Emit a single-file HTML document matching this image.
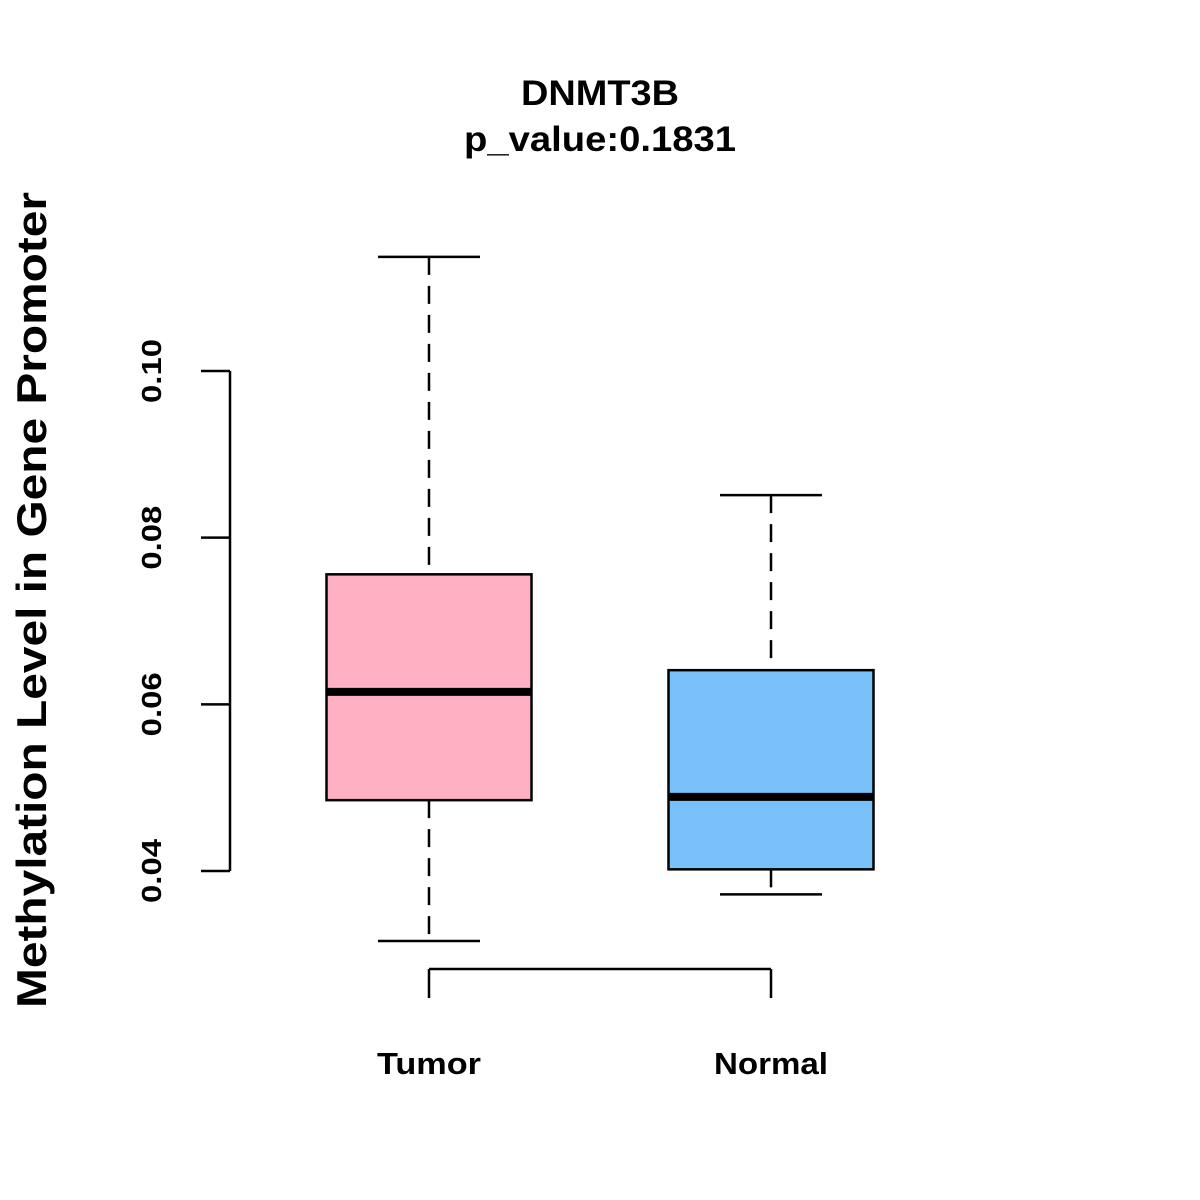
<!DOCTYPE html>
<html><head><meta charset="utf-8"><style>
html,body{margin:0;padding:0;background:#fff;}
svg{display:block;font-family:"Liberation Sans",Arial,sans-serif;font-weight:bold;}
</style></head><body>
<svg id="chart" width="1200" height="1200" viewBox="0 0 1200 1200">
<text x="600" y="105" font-size="35" text-anchor="middle" textLength="158" lengthAdjust="spacingAndGlyphs">DNMT3B</text>
<text x="600" y="151" font-size="35" text-anchor="middle" textLength="272" lengthAdjust="spacingAndGlyphs">p_value:0.1831</text>
<text transform="translate(46,600) rotate(-90)" font-size="42" text-anchor="middle" textLength="816" lengthAdjust="spacingAndGlyphs">Methylation Level in Gene Promoter</text>
<g id="yaxis"></g>
<g id="xaxis"></g>
<g id="boxes"></g>
</svg>
<script>
const categories = ["Tumor","Normal"];
const whiskerLow = [0.0316,0.0372];
const q1 = [0.0485,0.0402];
const median = [0.0615,0.0489];
const q3 = [0.0756,0.0641];
const whiskerHigh = [0.1137,0.0851];
const fills = ["#FFB1C3","#77C1F8"];
const yTicks = [0.04,0.06,0.08,0.10];
const yTickLabels = ["0.04","0.06","0.08","0.10"];

const NS="http://www.w3.org/2000/svg";
function y(v){return 871-(v-0.04)*(500/0.06);}
function x(i){return 429+i*342;}
function mk(tag,attrs,parent){const e=document.createElementNS(NS,tag);for(const k in attrs)e.setAttribute(k,attrs[k]);parent.appendChild(e);return e;}

const ya=document.getElementById('yaxis');
let l=mk('line',{x1:230,x2:230,y1:y(yTicks[yTicks.length-1]),y2:y(yTicks[0]),stroke:'#000','stroke-width':2.5},ya);


yTicks.forEach((t,i)=>{
  const tk=mk('line',{x1:201,x2:230,y1:y(t),y2:y(t),stroke:'#000','stroke-width':2.5},ya);
  
  
  const tx=mk('text',{transform:`translate(161,${y(t)}) rotate(-90)`,'font-size':28,'text-anchor':'middle',textLength:64,lengthAdjust:'spacingAndGlyphs'},ya);
  tx.textContent=yTickLabels[i];
  
  
});

const xLabelWidths=[104,114];
const xa=document.getElementById('xaxis');
l=mk('line',{x1:x(0),x2:x(categories.length-1),y1:969,y2:969,stroke:'#000','stroke-width':2.5},xa);


categories.forEach((c,i)=>{
  const tk=mk('line',{x1:x(i),x2:x(i),y1:969,y2:998,stroke:'#000','stroke-width':2.5},xa);
  
  
  const tx=mk('text',{x:x(i),y:1074,'font-size':31,'text-anchor':'middle',textLength:xLabelWidths[i],lengthAdjust:'spacingAndGlyphs'},xa);
  tx.textContent=c;
  
  
});

const bg=document.getElementById('boxes');
categories.forEach((c,i)=>{
  const cx=x(i), hw=102.5, cw=51;
  const g=mk('g',{},bg);
  
  
  mk('line',{x1:cx,x2:cx,y1:y(whiskerHigh[i]),y2:y(q3[i]),stroke:'#000','stroke-width':2.5,'stroke-dasharray':'18,11'},g);
  mk('line',{x1:cx,x2:cx,y1:y(q1[i]),y2:y(whiskerLow[i]),stroke:'#000','stroke-width':2.5,'stroke-dasharray':'18,11'},g);
  mk('line',{x1:cx-cw,x2:cx+cw,y1:y(whiskerHigh[i]),y2:y(whiskerHigh[i]),stroke:'#000','stroke-width':2.5},g);
  mk('line',{x1:cx-cw,x2:cx+cw,y1:y(whiskerLow[i]),y2:y(whiskerLow[i]),stroke:'#000','stroke-width':2.5},g);
  mk('rect',{x:cx-hw,y:y(q3[i]),width:2*hw,height:y(q1[i])-y(q3[i]),fill:fills[i],stroke:'#000','stroke-width':2.5},g);
  mk('line',{x1:cx-hw,x2:cx+hw,y1:y(median[i]),y2:y(median[i]),stroke:'#000','stroke-width':8},g);
});
</script>
</body></html>
